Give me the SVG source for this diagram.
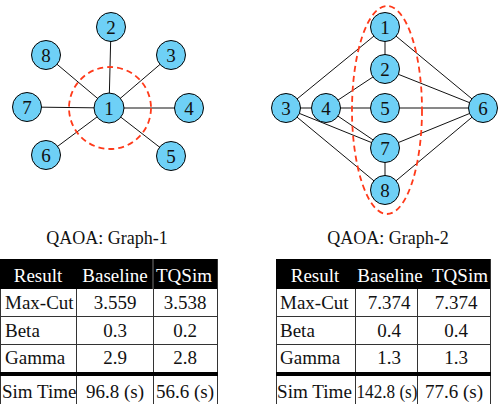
<svg xmlns="http://www.w3.org/2000/svg" width="500" height="404" viewBox="0 0 500 404">
<style>
.node circle{fill:#6ED0F6;stroke:#000;stroke-width:1}
.node text{font-family:"Liberation Serif","Times New Roman",serif;font-size:19px;text-anchor:middle;fill:#111}
.edge{stroke:#111;stroke-width:1;fill:none}
.cut{stroke:#FF3A1A;stroke-width:1.8;stroke-dasharray:6,4;fill:none}
.cap{font-family:"Liberation Serif","Times New Roman",serif;font-size:18px;text-anchor:middle;fill:#111}
.t{font-family:"Liberation Serif","Times New Roman",serif;font-size:19px;fill:#111}
.c{text-anchor:middle}
.h{fill:#fff}
.grid{stroke:#333;stroke-width:1;fill:none}
</style>
<g id="connectors">
<g id="g1-edges">
<line class="edge" x1="109" y1="108" x2="111" y2="27"/>
<line class="edge" x1="109" y1="108" x2="46" y2="55"/>
<line class="edge" x1="109" y1="108" x2="171" y2="55"/>
<line class="edge" x1="109" y1="108" x2="27" y2="107"/>
<line class="edge" x1="109" y1="108" x2="189" y2="108"/>
<line class="edge" x1="109" y1="108" x2="46" y2="155"/>
<line class="edge" x1="109" y1="108" x2="171" y2="156"/>
</g>
<g id="g2-edges">
<line class="edge" x1="385" y1="27" x2="385" y2="69"/>
<line class="edge" x1="385" y1="27" x2="286" y2="108"/>
<line class="edge" x1="385" y1="27" x2="483" y2="108"/>
<line class="edge" x1="385" y1="69" x2="326" y2="108"/>
<line class="edge" x1="385" y1="69" x2="483" y2="108"/>
<line class="edge" x1="286" y1="108" x2="326" y2="108"/>
<line class="edge" x1="326" y1="108" x2="385" y2="108"/>
<line class="edge" x1="385" y1="108" x2="483" y2="108"/>
<line class="edge" x1="286" y1="108" x2="385" y2="148"/>
<line class="edge" x1="326" y1="108" x2="385" y2="148"/>
<line class="edge" x1="385" y1="148" x2="483" y2="108"/>
<line class="edge" x1="385" y1="148" x2="385" y2="190"/>
<line class="edge" x1="286" y1="108" x2="385" y2="190"/>
<line class="edge" x1="385" y1="190" x2="483" y2="108"/>
</g>
</g>
<g id="graph1">
<g id="g1n1" class="node"><circle cx="109" cy="108" r="15"/><text x="109" y="115">1</text></g>
<g id="g1n2" class="node"><circle cx="111" cy="27" r="14.5"/><text x="111" y="34">2</text></g>
<g id="g1n3" class="node"><circle cx="171" cy="55" r="14.5"/><text x="171" y="62">3</text></g>
<g id="g1n4" class="node"><circle cx="189" cy="108" r="14.5"/><text x="189" y="115">4</text></g>
<g id="g1n5" class="node"><circle cx="171" cy="156" r="14.5"/><text x="171" y="163">5</text></g>
<g id="g1n6" class="node"><circle cx="46" cy="155" r="14.5"/><text x="46" y="162">6</text></g>
<g id="g1n7" class="node"><circle cx="27" cy="107" r="14.5"/><text x="27" y="114">7</text></g>
<g id="g1n8" class="node"><circle cx="46" cy="55" r="14.5"/><text x="46" y="62">8</text></g>
<circle id="g1-cut" class="cut" cx="110" cy="108" r="41"/>
</g>
<g id="graph2">
<g id="g2n1" class="node"><circle cx="385" cy="27" r="14.5"/><text x="385" y="34">1</text></g>
<g id="g2n2" class="node"><circle cx="385" cy="69" r="14.5"/><text x="385" y="76">2</text></g>
<g id="g2n3" class="node"><circle cx="286" cy="108" r="14.5"/><text x="286" y="115">3</text></g>
<g id="g2n4" class="node"><circle cx="326" cy="108" r="14.5"/><text x="326" y="115">4</text></g>
<g id="g2n5" class="node"><circle cx="385" cy="108" r="14.5"/><text x="385" y="115">5</text></g>
<g id="g2n6" class="node"><circle cx="483" cy="108" r="14.5"/><text x="483" y="115">6</text></g>
<g id="g2n7" class="node"><circle cx="385" cy="148" r="14.5"/><text x="385" y="155">7</text></g>
<g id="g2n8" class="node"><circle cx="385" cy="190" r="14.5"/><text x="385" y="197">8</text></g>
<ellipse id="g2-cut" class="cut" cx="387" cy="110" rx="35" ry="104"/>
</g>
<text class="cap" x="107" y="244">QAOA: Graph-1</text>
<text class="cap" x="388" y="244">QAOA: Graph-2</text>
<g id="table1">
<rect x="0" y="259" width="218" height="30" fill="#000"/>
<line x1="153" y1="259" x2="153" y2="289" stroke="#777" stroke-width="1"/>
<path class="grid" d="M0.5,289 V404 M76.5,289 V404 M153.5,289 V404 M217.5,259 V404 M0,316.5 H218 M0,344.5 H218"/>
<rect x="0" y="372" width="218" height="4" fill="#000"/>
<text class="t c h" x="38" y="282">Result</text>
<text class="t c h" x="115" y="282">Baseline</text>
<text class="t c h" x="184" y="282">TQSim</text>
<text class="t" x="5" y="309">Max-Cut</text>
<text class="t c" x="115" y="309">3.559</text>
<text class="t c" x="185" y="309">3.538</text>
<text class="t" x="5" y="337">Beta</text>
<text class="t c" x="115" y="337">0.3</text>
<text class="t c" x="185" y="337">0.2</text>
<text class="t" x="5" y="364">Gamma</text>
<text class="t c" x="115" y="364">2.9</text>
<text class="t c" x="185" y="364">2.8</text>
<text class="t" x="2" y="398">Sim Time</text>
<text class="t c" x="115" y="398">96.8 (s)</text>
<text class="t c" x="185" y="398">56.6 (s)</text>
</g>
<g id="table2">
<rect x="276" y="259" width="215" height="30" fill="#000"/>
<path class="grid" d="M276.5,289 V404 M355.5,289 V404 M417.5,289 V404 M490.5,259 V404 M276,316.5 H491 M276,344.5 H491"/>
<rect x="276" y="372" width="215" height="4" fill="#000"/>
<text class="t c h" x="315" y="282">Result</text>
<text class="t c h" x="390" y="282">Baseline</text>
<text class="t c h" x="460" y="282">TQSim</text>
<text class="t" x="280" y="309">Max-Cut</text>
<text class="t c" x="389" y="309">7.374</text>
<text class="t c" x="456" y="309">7.374</text>
<text class="t" x="280" y="337">Beta</text>
<text class="t c" x="389" y="337">0.4</text>
<text class="t c" x="456" y="337">0.4</text>
<text class="t" x="280" y="364">Gamma</text>
<text class="t c" x="389" y="364">1.3</text>
<text class="t c" x="456" y="364">1.3</text>
<text class="t" x="277" y="398" textLength="75" lengthAdjust="spacingAndGlyphs">Sim Time</text>
<text class="t c" x="387" y="398" textLength="61" lengthAdjust="spacingAndGlyphs">142.8 (s)</text>
<text class="t c" x="454" y="398">77.6 (s)</text>
</g>
</svg>
